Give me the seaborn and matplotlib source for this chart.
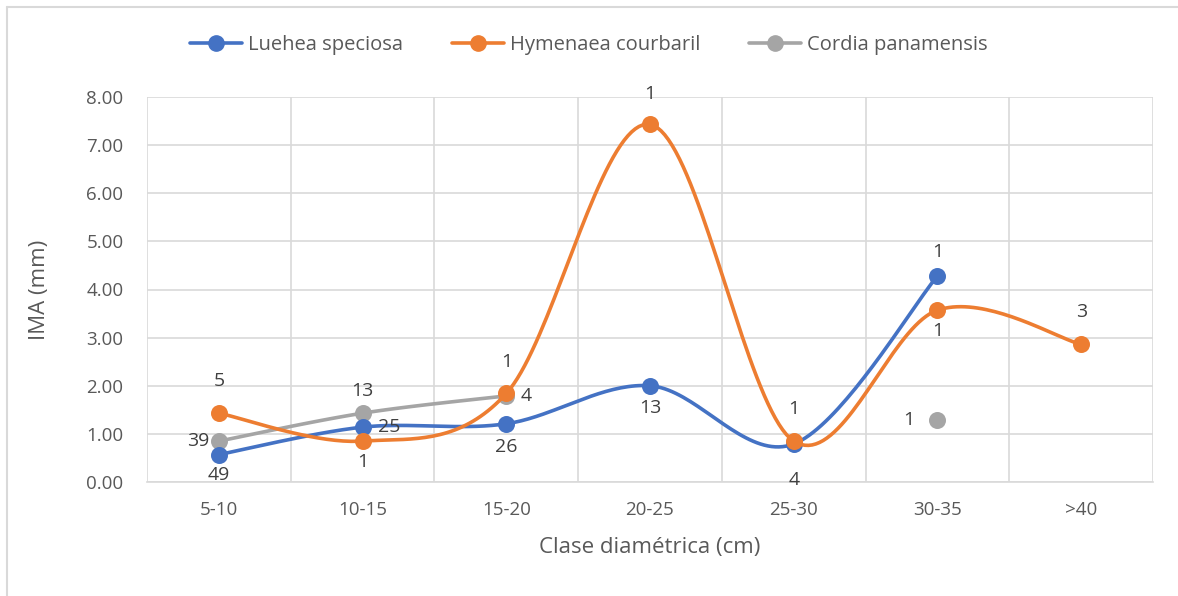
import numpy as np
import matplotlib
matplotlib.use("Agg")
import matplotlib.pyplot as plt
import seaborn as sns
from matplotlib.lines import Line2D

categories = ["5-10", "10-15", "15-20", "20-25", "25-30", "30-35", ">40"]
luehea = [0.57, 1.14, 1.21, 2.00, 0.79, 4.28, np.nan]
luehea_n = ["49", "25", "26", "13", "4", "1", ""]
hymenaea = [1.43, 0.85, 1.84, 7.43, 0.85, 3.57, 2.86]
hymenaea_n = ["5", "1", "1", "1", "1", "1", "3"]
cordia = [0.85, 1.43, 1.79, np.nan, np.nan, 1.28, np.nan]
cordia_n = ["39", "13", "4", "", "", "1", ""]

series = ["Luehea speciosa", "Hymenaea courbaril", "Cordia panamensis"]
colors = ["#4472C4", "#ED7D31", "#A5A5A5"]
TEXT = "#595959"

sns.set_theme(style="white")
plt.rcParams['font.family'] = ['Open Sans', 'DejaVu Sans']

fig = plt.figure(figsize=(11.78, 5.96), dpi=100)
ax = fig.add_axes([147/1178, 1 - 482/596, (1153-147)/1178, (482-97)/596])

x = np.arange(len(categories))


def smooth(xs, ys, n=40):
    # Catmull-Rom style Bezier (like Excel smoothed line)
    xs = np.asarray(xs, float); ys = np.asarray(ys, float)
    P = np.column_stack([xs, ys])
    out = []
    for i in range(len(P) - 1):
        p0 = P[i - 1] if i > 0 else P[i]
        p1 = P[i]; p2 = P[i + 1]
        p3 = P[i + 2] if i + 2 < len(P) else P[i + 1]
        c1 = p1 + (p2 - p0) / 6
        c2 = p2 - (p3 - p1) / 6
        t = np.linspace(0, 1, n)[:, None]
        seg = (1-t)**3*p1 + 3*(1-t)**2*t*c1 + 3*(1-t)*t**2*c2 + t**3*p2
        out.append(seg)
    return np.vstack(out)


def runs(vals):
    vals = np.asarray(vals, float)
    res, cur = [], []
    for i, v in enumerate(vals):
        if np.isnan(v):
            if cur:
                res.append(cur); cur = []
        else:
            cur.append(i)
    if cur:
        res.append(cur)
    return res


data = [luehea, hymenaea, cordia]
for vals, col, z in zip(data, colors, [3, 4, 2]):
    for r in runs(vals):
        if len(r) > 1:
            pts = smooth(x[r], np.asarray(vals, float)[r])
            ax.plot(pts[:, 0], pts[:, 1], color=col, lw=2.6, zorder=z,
                    solid_capstyle="round")
    m = ~np.isnan(np.asarray(vals, float))
    sns.scatterplot(x=x[m], y=np.asarray(vals, float)[m], color=col, s=150,
                    edgecolor=col, linewidth=0, ax=ax, zorder=z + 0.5, legend=False)

# data labels: (dx, dy) offsets in points
fs_lab = 14
lab_pos = {
    0: [(0, -15), (19, 0), (0, -17), (0, -16), (0, -26), (0, 17)],
    1: [(0, 23), (0, -15), (0, 23), (0, 22), (0, 23), (0, -15), (0, 23)],
    2: [(-15, 0), (0, 16), (14, 0), None, None, (-21, 0)],
}
labs = [luehea_n, hymenaea_n, cordia_n]
for si in range(3):
    vals = data[si]
    for i, v in enumerate(vals):
        if np.isnan(v) or not labs[si][i]:
            continue
        dx, dy = lab_pos[si][i]
        ax.annotate(labs[si][i], (x[i], v), xytext=(dx, dy), textcoords="offset points",
                    ha="center", va="center", fontsize=fs_lab, color="#404040", zorder=10)

ax.set_xlim(-0.5, len(categories) - 0.5)
ax.set_ylim(0, 8)
ax.set_yticks(np.arange(0, 8.01, 1))
ax.set_yticklabels([f"{v:.2f}" for v in np.arange(0, 8.01, 1)])
ax.set_xticks(x)
ax.set_xticklabels(categories)
ax.set_xticks(np.arange(-0.5, len(categories), 1), minor=True)
ax.grid(False)
ax.yaxis.grid(True, color="#D9D9D9", lw=1.2)
ax.xaxis.grid(True, which="minor", color="#D9D9D9", lw=1.2)
ax.set_axisbelow(True)
for s in ["top", "right"]:
    ax.spines[s].set_visible(False)
ax.spines["left"].set_visible(False)
ax.spines["bottom"].set_color("#D9D9D9")
ax.spines["bottom"].set_linewidth(1.2)
ax.tick_params(axis="both", which="both", length=0, labelsize=13.5, colors=TEXT)
ax.tick_params(axis="x", pad=14)
ax.tick_params(axis="y", pad=17)

ax.set_xlabel("Clase diamétrica (cm)", fontsize=16, color=TEXT, labelpad=13)
ax.set_ylabel("IMA (mm)", fontsize=16, color=TEXT, labelpad=26)

handles = [Line2D([0], [0], color=c, lw=2.6, marker="o", markersize=11) for c in colors]
fig.legend(handles, series, loc="center", bbox_to_anchor=(0.5, 1 - 45/596), ncol=3,
           frameon=False, fontsize=14.5, labelcolor=TEXT, handlelength=2.6,
           handletextpad=0.3, columnspacing=2.4)

# chart border (top and left only)
fig.add_artist(Line2D([7/1178, 7/1178], [0, 1 - 7/596], color="#D9D9D9", lw=1.5))
fig.add_artist(Line2D([7/1178, 1], [1 - 7/596, 1 - 7/596], color="#D9D9D9", lw=1.5))

fig.savefig("out.png", dpi=100)
